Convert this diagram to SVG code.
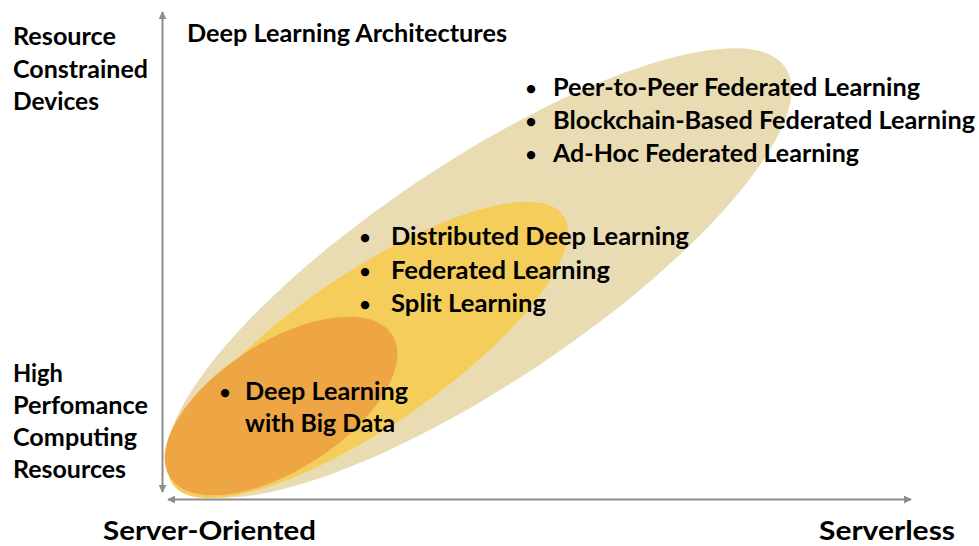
<svg xmlns="http://www.w3.org/2000/svg" width="979" height="546" viewBox="0 0 979 546">
  <defs>
    <marker id="arr" viewBox="0 0 10 10" refX="9" refY="5" markerWidth="4" markerHeight="4" orient="auto-start-reverse" markerUnits="strokeWidth">
      <path d="M0,0 L10,5 L0,10 z" fill="#8c8c8c"/>
    </marker>
    <style>
      text { font-family: Lato, "Open Sans", "Liberation Sans", sans-serif; font-weight: 700; fill: #000; }
      .t { font-size: 24px; }
      .big { font-size: 27px; }
      .bul { font-size: 19px; text-anchor: middle; }
      .axis { stroke: #8c8c8c; stroke-width: 2; fill: none; }
    </style>
  </defs>
  <rect width="979" height="546" fill="#ffffff"/>

  <g id="ellipses">
    <ellipse id="outer" cx="479" cy="273" rx="369" ry="110" transform="rotate(-33.8 479 273)" fill="#EADCB2"/>
    <ellipse id="middle" cx="368" cy="350" rx="237" ry="76" transform="rotate(-34.5 368 350)" fill="#F4CD5A"/>
    <ellipse id="inner" cx="281" cy="406" rx="132" ry="64" transform="rotate(-32.7 281 406)" fill="#EEA644"/>
  </g>

  <g id="connectors">
    <line class="axis" x1="162.5" y1="492" x2="162.5" y2="12" marker-end="url(#arr)" marker-start="url(#arr)"/>
    <line class="axis" x1="168" y1="499.5" x2="911" y2="499.5" marker-end="url(#arr)" marker-start="url(#arr)"/>
  </g>

  <g id="title">
    <text class="t" x="187" y="42" textLength="320" lengthAdjust="spacingAndGlyphs">Deep Learning Architectures</text>
  </g>

  <g id="y-top-label">
    <text class="t" x="13" y="45" textLength="103" lengthAdjust="spacingAndGlyphs">Resource</text>
    <text class="t" x="13" y="78" textLength="135" lengthAdjust="spacingAndGlyphs">Constrained</text>
    <text class="t" x="13" y="110" textLength="86" lengthAdjust="spacingAndGlyphs">Devices</text>
  </g>

  <g id="y-bottom-label">
    <text class="t" x="13" y="382" textLength="50" lengthAdjust="spacingAndGlyphs">High</text>
    <text class="t" x="13" y="414" textLength="135" lengthAdjust="spacingAndGlyphs">Perfomance</text>
    <text class="t" x="13" y="446" textLength="124" lengthAdjust="spacingAndGlyphs">Computing</text>
    <text class="t" x="13" y="478" textLength="113" lengthAdjust="spacingAndGlyphs">Resources</text>
  </g>

  <g id="x-left-label">
    <text class="big" x="103" y="540" textLength="213" lengthAdjust="spacingAndGlyphs">Server-Oriented</text>
  </g>
  <g id="x-right-label">
    <text class="big" x="819" y="540" textLength="136" lengthAdjust="spacingAndGlyphs">Serverless</text>
  </g>

  <g id="serverless-group">
    <text class="bul" x="531" y="95">•</text>
    <text class="t" x="553" y="96" textLength="367" lengthAdjust="spacingAndGlyphs">Peer-to-Peer Federated Learning</text>
    <text class="bul" x="531" y="128">•</text>
    <text class="t" x="553" y="129" textLength="422" lengthAdjust="spacingAndGlyphs">Blockchain-Based Federated Learning</text>
    <text class="bul" x="531" y="161">•</text>
    <text class="t" x="553" y="162" textLength="306" lengthAdjust="spacingAndGlyphs">Ad-Hoc Federated Learning</text>
  </g>

  <g id="distributed-group">
    <text class="bul" x="365" y="244">•</text>
    <text class="t" x="391" y="245" textLength="298" lengthAdjust="spacingAndGlyphs">Distributed Deep Learning</text>
    <text class="bul" x="365" y="278">•</text>
    <text class="t" x="391" y="279" textLength="219" lengthAdjust="spacingAndGlyphs">Federated Learning</text>
    <text class="bul" x="365" y="311">•</text>
    <text class="t" x="391" y="312" textLength="155" lengthAdjust="spacingAndGlyphs">Split Learning</text>
  </g>

  <g id="bigdata-group">
    <text class="bul" x="225" y="399">•</text>
    <text class="t" x="245" y="400" textLength="163" lengthAdjust="spacingAndGlyphs">Deep Learning</text>
    <text class="t" x="245" y="432" textLength="150" lengthAdjust="spacingAndGlyphs">with Big Data</text>
  </g>
</svg>
